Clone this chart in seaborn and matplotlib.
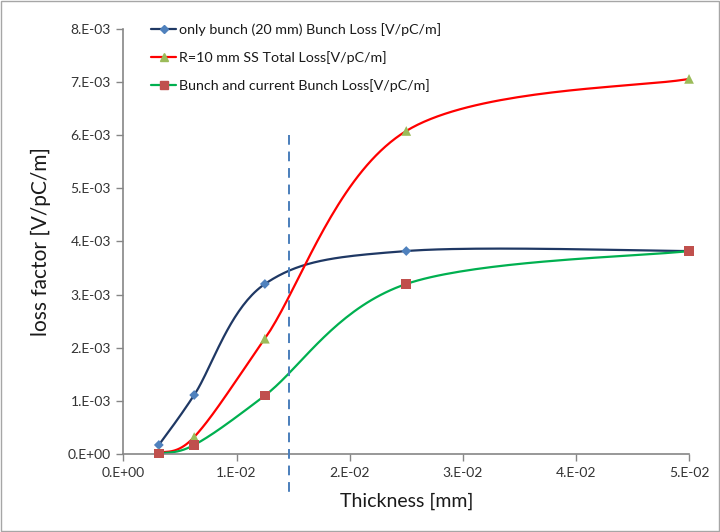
import numpy as np
import pandas as pd
import matplotlib
matplotlib.use("Agg")
import matplotlib.pyplot as plt
from matplotlib.lines import Line2D
from matplotlib.patches import Rectangle
import seaborn as sns

# Wall thickness and loss factors
thickness = [0.003125, 0.00625, 0.0125, 0.025, 0.05]
only_bunch = [0.00017, 0.00111, 0.00320, 0.00382, 0.00382]
ss_total = [0.00002, 0.00032, 0.00217, 0.00608, 0.00706]
bunch_current = [0.00001, 0.00017, 0.00110, 0.00320, 0.00382]

series_names = [
    "only bunch (20 mm) Bunch Loss [V/pC/m]",
    "R=10 mm SS Total Loss[V/pC/m]",
    "Bunch and current Bunch Loss[V/pC/m]",
]

# Reference thickness marked with a dashed line
marker_x = 0.0146
marker_y = [0.0060, -0.00077]

xticks = [0.0, 0.01, 0.02, 0.03, 0.04, 0.05]
xtick_labels = ["0.E+00", "1.E-02", "2.E-02", "3.E-02", "4.E-02", "5.E-02"]
yticks = [0.0, 0.001, 0.002, 0.003, 0.004, 0.005, 0.006, 0.007, 0.008]
ytick_labels = ["0.E+00", "1.E-03", "2.E-03", "3.E-03", "4.E-03",
                "5.E-03", "6.E-03", "7.E-03", "8.E-03"]


def smooth(xs, ys, n=40):
    """Piecewise cubic Bezier through the points (Catmull-Rom style)."""
    p = np.column_stack([xs, ys]).astype(float)
    out = []
    for i in range(len(p) - 1):
        p0 = p[i - 1] if i > 0 else p[i]
        p1 = p[i]
        p2 = p[i + 1]
        p3 = p[i + 2] if i + 2 < len(p) else p[i + 1]
        c1 = p1 + (p2 - p0) / 6.0
        c2 = p2 - (p3 - p1) / 6.0
        t = np.linspace(0, 1, n)[:, None]
        seg = ((1 - t) ** 3) * p1 + 3 * ((1 - t) ** 2) * t * c1 \
            + 3 * (1 - t) * t ** 2 * c2 + t ** 3 * p2
        out.append(seg if i == 0 else seg[1:])
    s = np.vstack(out)
    return s[:, 0], s[:, 1]


sns.set_theme(style="white")
plt.rcParams["font.family"] = ["Lato", "DejaVu Sans"]

fig = plt.figure(figsize=(7.2, 5.32), dpi=100)
ax = fig.add_axes([0.1715, 0.1466, 0.7855, 0.799])

styles = [
    (only_bunch, "#1F3864", "D", "#4F81BD", 5),
    (ss_total, "#FF0000", "^", "#9BBB59", 7),
    (bunch_current, "#00B050", "s", "#C0504D", 7),
]

handles = []
for (vals, lc, mk, mc, ms), name in zip(styles, series_names):
    sx, sy = smooth(thickness, vals)
    dense = pd.DataFrame({"x": sx, "y": sy})
    sns.lineplot(data=dense, x="x", y="y", ax=ax, color=lc, linewidth=1.6,
                 sort=False, estimator=None)
    pts = pd.DataFrame({"x": thickness, "y": vals})
    sns.scatterplot(data=pts, x="x", y="y", ax=ax, marker=mk, color=mc,
                    s=ms ** 2, edgecolor="none", zorder=5, clip_on=False)
    handles.append(Line2D([0], [0], color=lc, lw=1.6, marker=mk,
                          markerfacecolor=mc, markeredgecolor=mc,
                          markersize=ms * 0.8, label=name))

ax.plot([marker_x, marker_x], marker_y, color="#4A7EBB", lw=1.4,
        ls=(0, (5, 3.5)), clip_on=False, zorder=4)

ax.set_xlim(0, 0.05)
ax.set_ylim(0, 0.008)
ax.set_xticks(xticks)
ax.set_xticklabels(xtick_labels)
ax.set_yticks(yticks)
ax.set_yticklabels(ytick_labels)
ax.tick_params(axis="both", which="major", direction="out", length=5,
               width=1, color="#868686", labelsize=10, labelcolor="#333333",
               pad=4, bottom=True, left=True)

for side in ("top", "right"):
    ax.spines[side].set_visible(False)
for side in ("left", "bottom"):
    ax.spines[side].set_color("#868686")
    ax.spines[side].set_linewidth(1.2)

ax.set_xlabel("Thickness [mm]", fontsize=14, color="#1a1a1a", labelpad=10)
ax.set_ylabel("loss factor [V/pC/m]", fontsize=15, color="#1a1a1a", labelpad=12)

leg = ax.legend(handles=handles, loc="upper left",
                bbox_to_anchor=(0.038, 1.027), frameon=False, fontsize=10.3,
                handlelength=1.8, handletextpad=0.2, labelspacing=1.05,
                borderaxespad=0)
for t in leg.get_texts():
    t.set_color("#1a1a1a")

fig.patches.append(Rectangle((0.002, 0.002), 0.996, 0.996,
                             transform=fig.transFigure, fill=False,
                             edgecolor="#A6A6A6", lw=1.0))

fig.savefig("out.png", dpi=100)
